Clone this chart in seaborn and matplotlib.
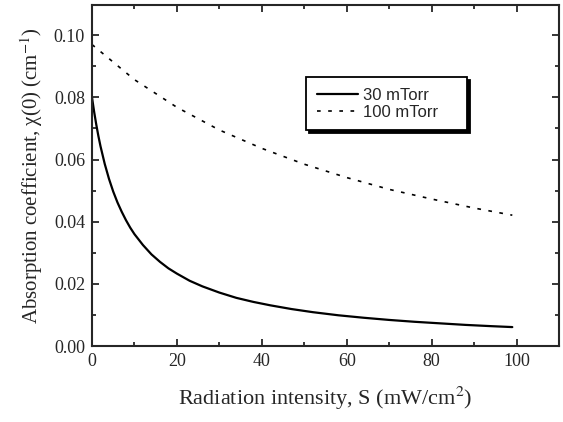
import pandas as pd
import seaborn as sns
import matplotlib
import matplotlib.pyplot as plt
from matplotlib.ticker import MultipleLocator, FormatStrFormatter

# values
s_30 = [0, 0.5, 1, 1.5, 2, 3, 4, 5, 6, 7, 8, 9, 10, 12, 14, 16, 18, 20, 23, 26, 30, 34, 38, 42,
        47, 52, 58, 64, 70, 76, 82, 88, 94, 99]
chi_30 = [0.0800, 0.0754, 0.0713, 0.0676, 0.0643, 0.0586, 0.0538, 0.0497, 0.0462, 0.0432, 0.0405,
          0.0381, 0.0360, 0.0325, 0.0295, 0.0271, 0.0250, 0.0233, 0.0210, 0.0192, 0.0172, 0.0155,
          0.0142, 0.0131, 0.0119, 0.0109, 0.0099, 0.0091, 0.0084, 0.0078, 0.0073, 0.0068, 0.0064,
          0.0061]

s_100 = [0, 10, 20, 30, 40, 50, 60, 70, 80, 90, 99]
chi_100 = [0.097, 0.0857, 0.0768, 0.0695, 0.0636, 0.0585, 0.0542, 0.0504, 0.0473, 0.0444, 0.0421]

labels = ["30 mTorr", "100 mTorr"]

df30 = pd.DataFrame({"S": s_30, "chi": chi_30})
df100 = pd.DataFrame({"S": s_100, "chi": chi_100})

sns.set_style("ticks")
matplotlib.rcParams['mathtext.fontset'] = 'stix'
matplotlib.rcParams['font.family'] = ['Liberation Serif', 'DejaVu Serif']

fig = plt.figure(figsize=(5.63, 4.22), dpi=100)
ax = fig.add_axes([0.1634, 0.180, 0.8295, 0.808])

sns.lineplot(data=df30, x="S", y="chi", color="black", linewidth=1.6, label=labels[0], ax=ax)
sns.lineplot(data=df100, x="S", y="chi", color="black", linewidth=1.2, label=labels[1],
             dashes=False, ax=ax)
ax.lines[1].set_dashes((2.2, 4.5))

ax.set_xlim(0, 110)
ax.set_ylim(0, 0.1097)
ax.xaxis.set_major_locator(MultipleLocator(20))
ax.xaxis.set_minor_locator(MultipleLocator(10))
ax.yaxis.set_major_locator(MultipleLocator(0.02))
ax.yaxis.set_minor_locator(MultipleLocator(0.01))
ax.yaxis.set_major_formatter(FormatStrFormatter('%.2f'))
ax.tick_params(which='both', direction='in', top=True, right=True, width=1.3, labelsize=13, pad=5)
ax.tick_params(which='major', length=5)
ax.tick_params(which='minor', length=3)
for sp in ax.spines.values():
    sp.set_linewidth(1.5)

ax.set_xlabel("Radiation intensity, S (mW/cm$^2$)", fontsize=16, labelpad=11)
ax.set_ylabel("Absorption coefficient, χ(0) (cm$^{-1}$)", fontsize=15, labelpad=6)

leg = ax.legend(loc='upper left', bbox_to_anchor=(0.458, 0.630, 0.345, 0.159), mode='expand',
                borderaxespad=0, frameon=True, fancybox=False, edgecolor='black',
                shadow={'facecolor': 'black', 'edgecolor': 'black', 'alpha': 1},
                prop={'family': 'Liberation Sans', 'size': 12},
                handlelength=2.5, handletextpad=0.3, borderpad=0.65, labelspacing=0.1)
leg.get_frame().set_linewidth(1.3)
leg.get_frame().set_alpha(1)

plt.savefig("out.png", dpi=100)
